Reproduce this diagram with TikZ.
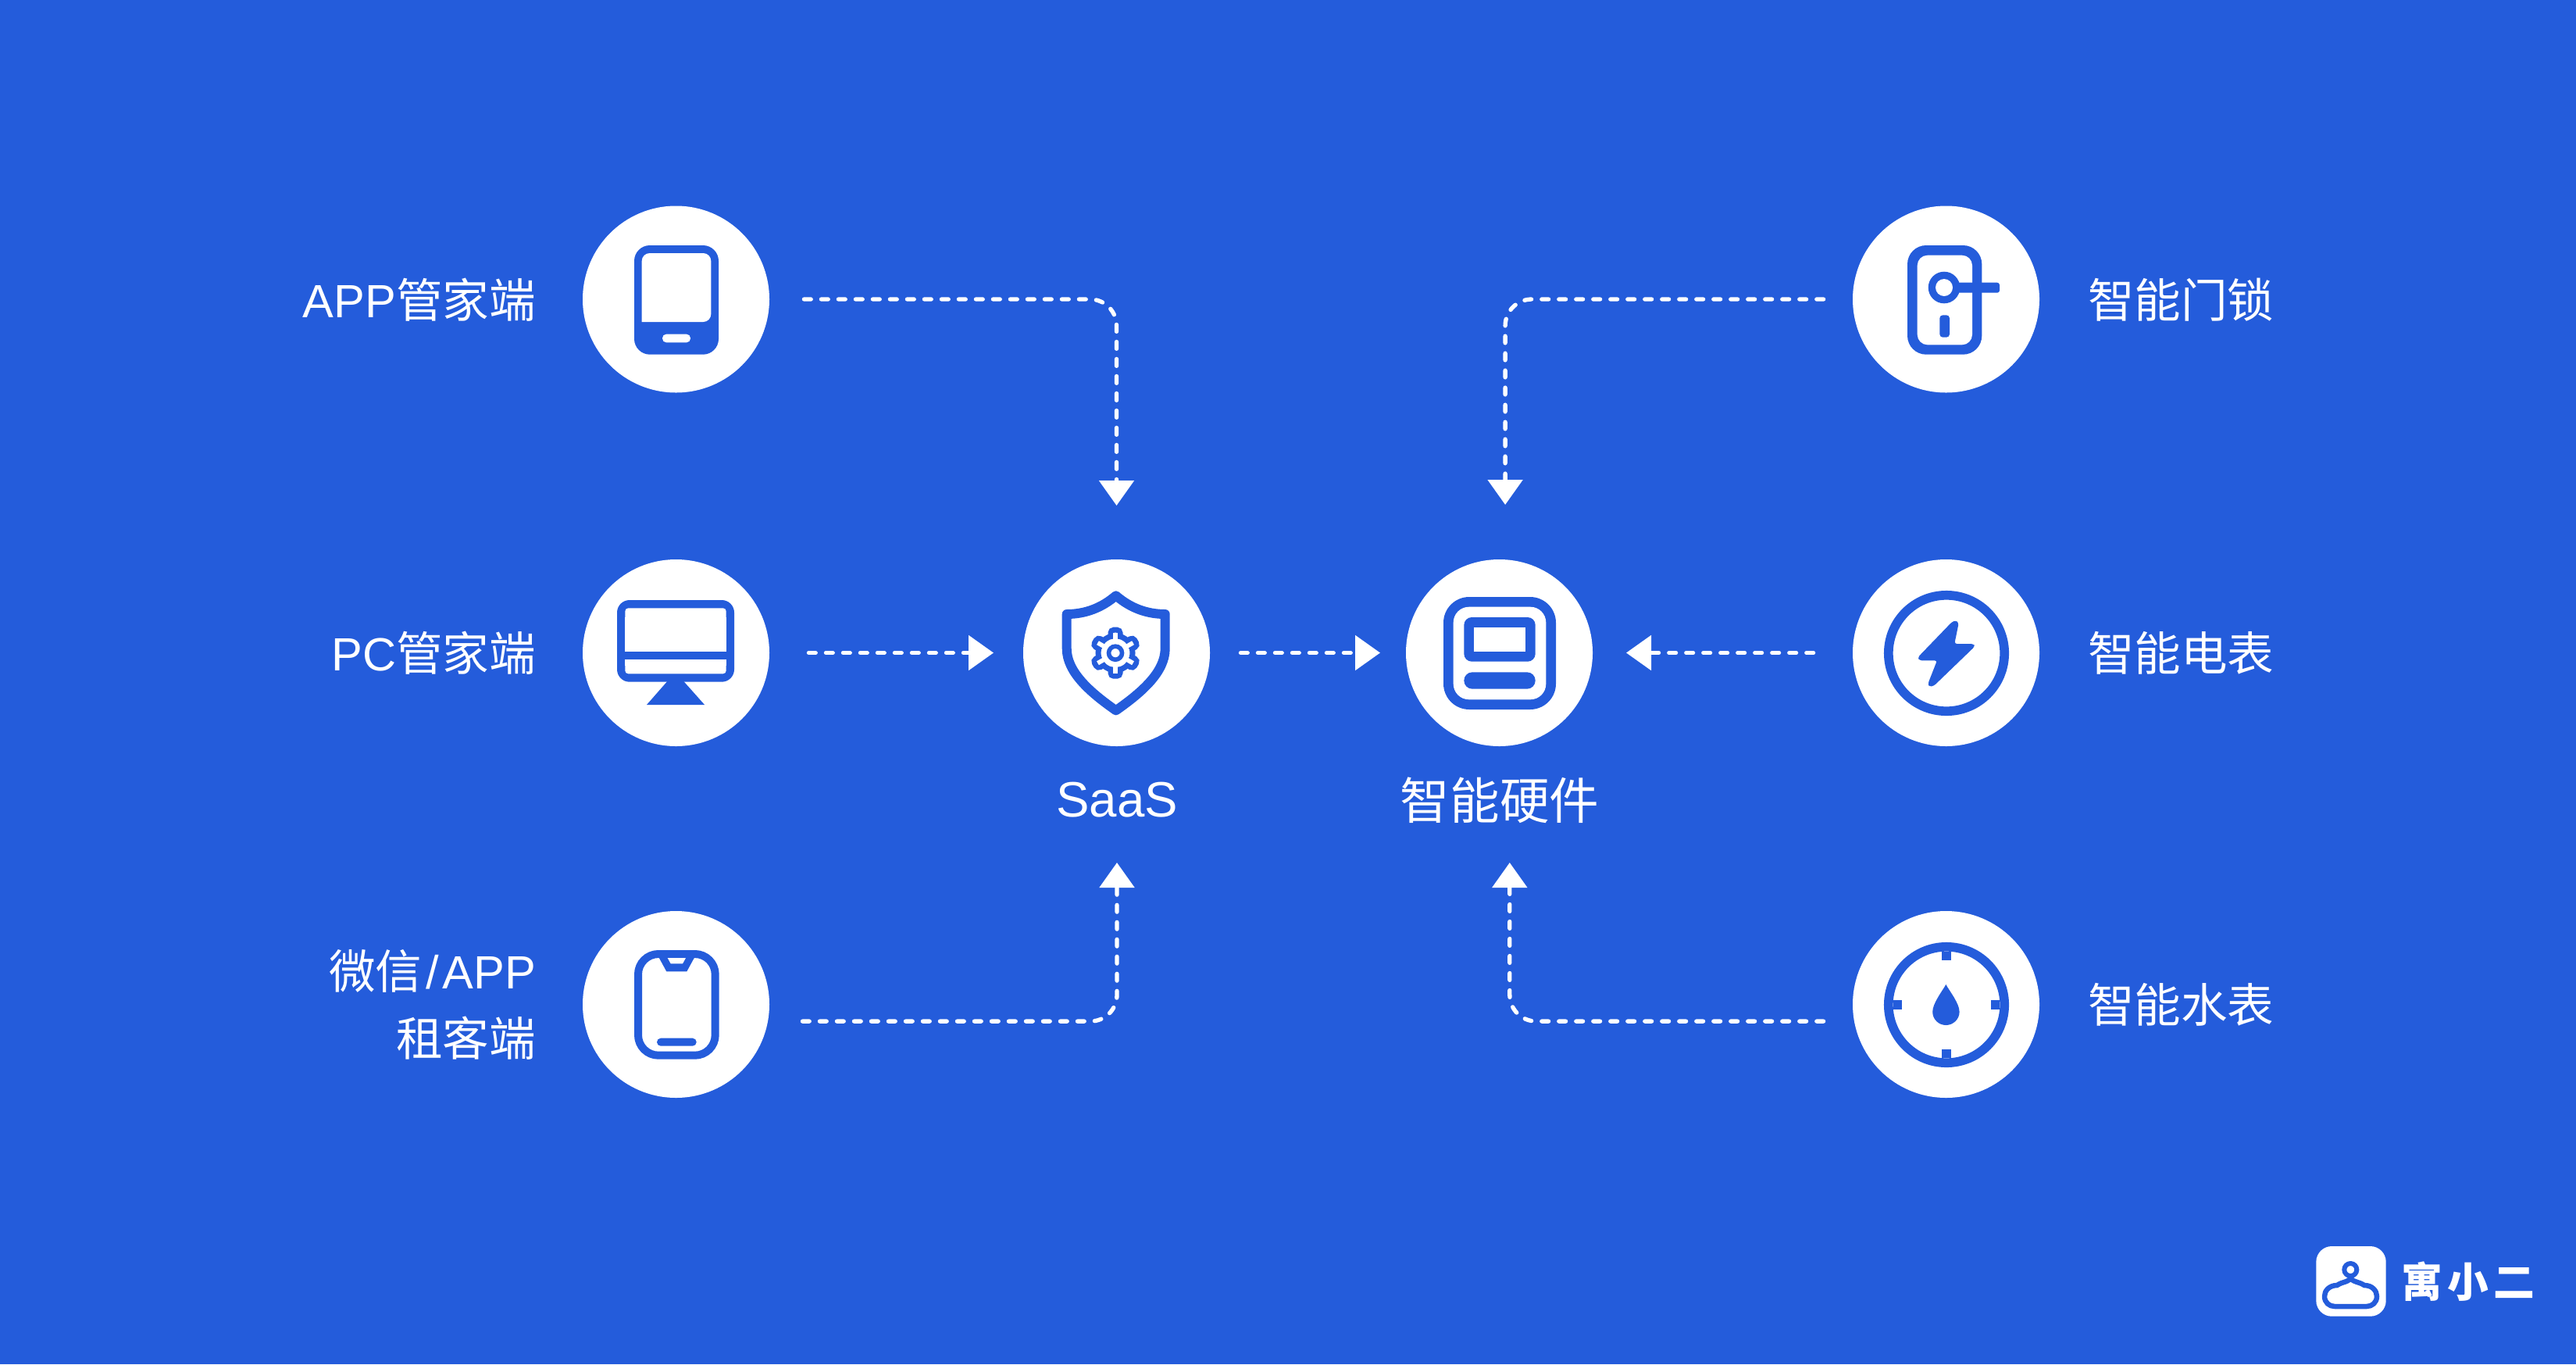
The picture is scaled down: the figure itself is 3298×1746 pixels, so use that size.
\documentclass[tikz,border=0pt]{standalone}
\usepackage{fontspec}
\setmainfont{Noto Sans CJK SC}
\newfontfamily\lat{Liberation Sans}
\usetikzlibrary{arrows.meta}
\definecolor{brand}{HTML}{245CDB}
\tikzset{
  disc/.style={circle,fill=white,draw=none,minimum size=59.75pt,inner sep=0pt,outer sep=0pt},
  lbl/.style={text=white,inner sep=0pt,outer sep=0pt,font=\fontsize{14.9pt}{21.5pt}\selectfont},
  biglbl/.style={text=white,inner sep=0pt,outer sep=0pt,minimum height=17.5pt,font=\fontsize{15.9pt}{20pt}\selectfont},
  conn/.style={draw=white,line width=1.33pt,line cap=round,dash pattern=on 2.2pt off 3.3pt,
    rounded corners=8.5pt,-{Triangle[width=11pt,length=8pt,sep=0pt]}},
  ic/.style={fill=brand,draw=none},
  wh/.style={fill=white,draw=none},
  st/.style={draw=brand,line width=#1*0.25pt,fill=none},
  rc/.style={rounded corners=#1*0.25pt},
  joinr/.style={line join=round,line cap=round}
}
\begin{document}
\begin{tikzpicture}[x=0.25pt,y=-0.25pt]
\useasboundingbox (0,0) rectangle (3298,1746);
\fill[brand] (0,0) rectangle (3298,1746);

% discs
\node[disc] (app) at (865.5,383) {};
\node[disc] (pc) at (865.5,835.5) {};
\node[disc] (wx) at (865.5,1285.5) {};
\node[disc] (saas) at (1429.5,835.5) {};
\node[disc] (hw) at (1919.5,835.5) {};
\node[disc] (lock) at (2491.5,383) {};
\node[disc] (meter) at (2491.5,835.5) {};
\node[disc] (water) at (2491.5,1285.5) {};

% labels
\node[lbl,anchor=east] (lapp) at (686,384) {{\lat APP}管家端};
\node[lbl,anchor=east] (lpc) at (686,836) {{\lat PC}管家端};
\node[lbl,anchor=east,align=right] (lwx) at (686,1286) {微信\hspace{1.2pt}{\lat /}\hspace{1.2pt}{\lat APP}\\租客端};
\node[lbl,anchor=west] (llock) at (2673,384) {智能门锁};
\node[lbl,anchor=west] (lmeter) at (2673,836) {智能电表};
\node[lbl,anchor=west] (lwater) at (2673,1286) {智能水表};
\node[biglbl] (lsaas) at (1430,1024) {\lat SaaS};
\node[biglbl] (lhw) at (1920,1024) {智能硬件};

% connectors
\draw[conn,shorten <=11.1pt,shorten >=17.25pt] (app.east) -| (saas.north);
\draw[conn,shorten <=12.6pt,shorten >=9.5pt] (pc.east) -- (saas.west);
\draw[conn,shorten <=10.6pt,shorten >=11.25pt] ([yshift=-5.4pt]wx.east) -| (lsaas.south);
\draw[conn,shorten <=9.85pt,shorten >=8.25pt] (saas.east) -- (hw.west);
\draw[conn,shorten <=9.35pt,shorten >=17.5pt] (lock.west) -| ([xshift=1.9pt]hw.north);
\draw[conn,shorten <=12.6pt,shorten >=10.75pt] (meter.west) -- (hw.east);
\draw[conn,shorten <=9.35pt,shorten >=11.25pt] ([yshift=-5.4pt]water.west) -| ([xshift=3.2pt]lhw.south);

% tablet
\fill[ic,rc=20] (812,314) rectangle (920,453.7);
\fill[wh] [rounded corners=2.5pt] (821.7,412) -- (821.7,324) -- (910.3,324) -- (910.3,412) [sharp corners] -- cycle;
\fill[wh,rc=5] (848,427.7) rectangle (884,438.3);

% monitor
\fill[ic,rc=16] (790,768) rectangle (940,872.7);
\fill[wh,rc=4] (800.3,778.3) rectangle (929.7,833.7);
\fill[wh] (800.3,790) rectangle (929.7,833.7);
\fill[wh,rc=4] (800.3,844.3) rectangle (929.7,862.3);
\fill[wh] (800.3,844.3) rectangle (929.7,852);
\fill[ic] (854.3,872) -- (828,902) -- (902,902) -- (875.3,872) -- cycle;

% phone
\draw[st=10,rc=26,fill=white] (817,1221) rectangle (915.7,1350.7);
\fill[ic] (843.3,1225) -- (853.3,1243.3) -- (879.3,1243.3) -- (889.3,1225) -- cycle;
\fill[wh] (854.7,1226) -- (858.7,1233.3) -- (874,1233.3) -- (878,1226) -- cycle;
\fill[ic,rc=5] (841,1328.7) rectangle (891.7,1338.7);

% shield
\draw[st=12,joinr] (1428.7,762.3) .. controls (1447,778) and (1468,786) .. (1491.7,786)
  -- (1491.7,830) .. controls (1491.7,860) and (1462,886) .. (1428.7,909.3)
  .. controls (1395.4,886) and (1365.7,860) .. (1365.7,830) -- (1365.7,786)
  .. controls (1389.4,786) and (1410.4,778) .. cycle;
% gear
\begin{scope}[shift={(1428,835.7)}]
  \foreach \a in {0,60,...,300}{
    \begin{scope}[rotate=\a]
      \draw[st=7,fill=white,rounded corners=1pt] (-6,-18) -- (-6,-29.5) -- (6,-29.5) -- (6,-18);
    \end{scope}
  }
  \draw[st=7] (0,0) circle[radius=22];
  \foreach \a in {0,60,...,300}{
    \begin{scope}[rotate=\a]
      \fill[wh] (-2.8,-16) rectangle (2.8,-26);
    \end{scope}
  }
  \draw[st=5.6] (0,0) circle[radius=8.5];
\end{scope}

% hardware
\fill[ic,rc=33] (1848,764) rectangle (1992,908);
\fill[wh,rc=20] (1860.7,776.7) rectangle (1979.3,895.3);
\fill[ic,rc=10] (1874.3,790) rectangle (1965.7,846.7);
\fill[wh] (1887,803) rectangle (1953,834);
\fill[ic,rc=10.7] (1874.3,860.3) rectangle (1965.7,881.7);

% door lock
\fill[ic,rc=24] (2442,314) rectangle (2537.3,453.7);
\fill[wh,rc=13] (2454.7,326.7) rectangle (2525,441.3);
\fill[ic,rc=3] (2495,361.7) rectangle (2560,374.7);
\fill[ic] (2489,368) circle[radius=20.3];
\fill[wh] (2489,368) circle[radius=11];
\fill[ic,rc=4] (2483.3,403.3) rectangle (2496,431.7);

% electric meter
\draw[st=11.7] (2492,836) circle[radius=74.2];
\fill[ic,rc=3] (2504,794) -- (2507.7,797.3) -- (2502.3,824) -- (2526.7,824) -- (2528.3,827.3)
  -- (2476,877.7) -- (2470,879) -- (2468.3,875) -- (2480,845.3) -- (2457.3,845.3) -- (2455.3,841.3)
  -- (2499,796) -- cycle;

% water meter
\draw[st=11.7] (2492,1286) circle[radius=74.2];
\fill[ic] (2486.2,1218) rectangle (2497.8,1229);
\fill[ic] (2486.2,1343) rectangle (2497.8,1354);
\fill[ic] (2424,1280.2) rectangle (2435,1291.8);
\fill[ic] (2549,1280.2) rectangle (2560,1291.8);
\fill[ic] (2491.3,1260) .. controls (2487,1268) and (2474.2,1284) .. (2474.2,1295)
  .. controls (2474.2,1304.5) and (2482,1312) .. (2491.3,1312)
  .. controls (2500.6,1312) and (2508.6,1304.5) .. (2508.6,1295)
  .. controls (2508.6,1284) and (2495.6,1268) .. cycle;

% logo
\fill[wh,rc=20] (2965.3,1595) rectangle (3054.7,1684.7);
\draw[st=6,joinr] (3009.3,1625) circle[radius=8];
\draw[st=6.5,joinr] (3009.3,1634) .. controls (3009,1641) and (2999,1640) .. (2992,1645)
  .. controls (2982,1645) and (2976,1652) .. (2976,1659)
  .. controls (2976,1667) and (2982,1672) .. (2989,1672) -- (3030,1672)
  .. controls (3037,1672) and (3043,1667) .. (3043,1659)
  .. controls (3043,1652) and (3037,1645) .. (3027,1645)
  .. controls (3020,1640) and (3010,1641) .. (3009.3,1634);
\node[text=white,inner sep=0pt,outer sep=0pt,font=\fontsize{13.2pt}{14pt}\selectfont\bfseries] (logo) at (3160,1640) {寓\hspace{1.6pt}小\hspace{1.6pt}二};
\end{tikzpicture}
\end{document}
